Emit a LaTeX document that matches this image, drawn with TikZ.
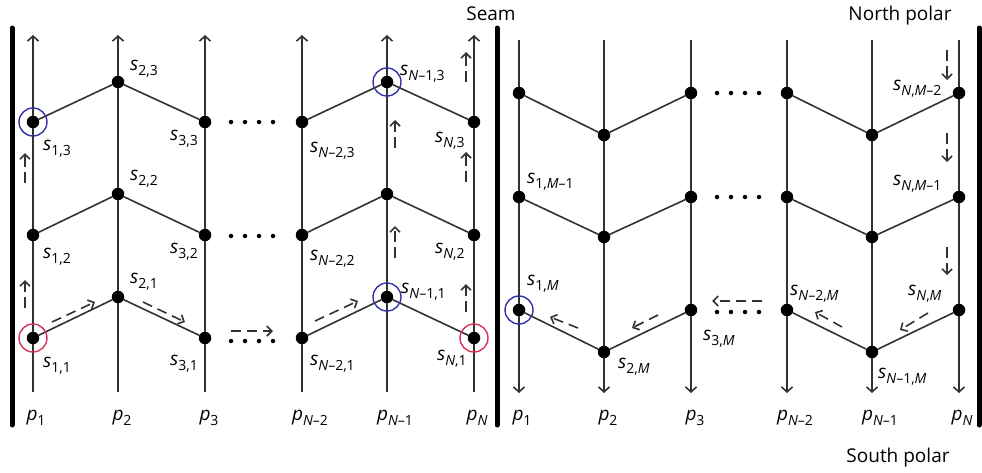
\documentclass[tikz,border=0pt]{standalone}
\usepackage{fontspec}
\setmainfont{Open Sans}
\usetikzlibrary{arrows.meta}
\definecolor{ringblue}{RGB}{50,50,170}
\definecolor{ringred}{RGB}{220,50,90}
\definecolor{linegray}{RGB}{50,50,50}
\newcommand\slab[1]{\textit{s}\raisebox{-5pt}{\fontsize{14pt}{14pt}\selectfont #1}}
\newcommand\plab[1]{\textit{p}\raisebox{-5pt}{\fontsize{14pt}{14pt}\selectfont #1}}
\newcommand\iN{\textit{N}}
\newcommand\iM{\textit{M}}
\tikzset{
  dot/.style={circle, fill=black, inner sep=0pt, minimum size=12.5pt},
  sdot/.style={circle, fill=black, inner sep=0pt, minimum size=4.5pt},
  vline/.style={draw=linegray, line width=1.6pt},
  zig/.style={draw=linegray, line width=1.6pt},
  tipup/.style={-{Straight Barb[length=5pt,width=11pt]}},
  darr/.style={draw=linegray, line width=1.6pt, dash pattern=on 10pt off 6pt, -{Straight Barb[length=5pt,width=10pt]}},
  vdash/.style={dash pattern=on 11pt off 5pt},
  ring/.style={circle, draw, line width=1.4pt, minimum size=28pt, inner sep=0pt},
  bar/.style={line width=5pt, line cap=round},
  lab/.style={anchor=base west, inner sep=0pt},
  plabel/.style={anchor=base, inner sep=0pt},
  title/.style={anchor=base, inner sep=0pt}
}
\begin{document}
\begin{tikzpicture}[x=1pt,y=-1pt,font=\fontsize{19pt}{22pt}\selectfont]
\useasboundingbox (0,0) rectangle (982,472);
% thick bars
\coordinate (BLt) at (12,28); \coordinate (BLb) at (12,425);
\coordinate (BSt) at (497,28); \coordinate (BSb) at (497,425);
\coordinate (BRt) at (979,28); \coordinate (BRb) at (979,425);
\draw[bar] (BLt) -- (BLb);
\draw[bar] (BSt) -- (BSb);
\draw[bar] (BRt) -- (BRb);
% titles
\node[title] (seam) at (491,20) {Seam};
\node[title] (north) at (900,20) {North polar};
\node[title] (south) at (898,462) {South polar};
% ---------- left panel ----------
\foreach \c/\x in {1/33,2/118,3/205,4/302,5/387,6/474}{
  \coordinate (Lt\c) at (\x,35);
  \coordinate (Lb\c) at (\x,392);
  \draw[vline,tipup] (Lb\c) -- (Lt\c);
}
\foreach \c/\x in {1/33,3/205,4/302,6/474}{
  \foreach \r/\y in {1/338,2/235,3/122}{
    \node[dot] (L\c\r) at (\x,\y) {};
  }
}
\foreach \c/\x in {2/118,5/387}{
  \foreach \r/\y in {1/297,2/194,3/82}{
    \node[dot] (L\c\r) at (\x,\y) {};
  }
}
\foreach \r in {1,2,3}{
  \draw[zig] (L1\r) -- (L2\r) -- (L3\r);
  \draw[zig] (L4\r) -- (L5\r) -- (L6\r);
}
% small dots left panel
\foreach \r/\y in {1/341,2/236,3/122}{
  \foreach \k/\x in {1/231,2/245,3/259,4/273}{
    \node[sdot] (Ld\r\k) at (\x,\y) {};
  }
}
% rings
\node[ring, draw=ringblue] (c1) at (L13) {};
\node[ring, draw=ringred] (c2) at (L11) {};
\node[ring, draw=ringblue] (c3) at (L53) {};
\node[ring, draw=ringblue] (c4) at (L51) {};
\node[ring, draw=ringred] (c5) at (L61) {};
% labels left
\node[lab] (l13) at (43,150) {\slab{1,3}};
\node[lab] (l23) at (130,70) {\slab{2,3}};
\node[lab] (l33) at (170,140) {\slab{3,3}};
\node[lab] (l12) at (43,258) {\slab{1,2}};
\node[lab] (l22) at (130,180) {\slab{2,2}};
\node[lab] (l32) at (170,253) {\slab{3,2}};
\node[lab] (l11) at (43,367) {\slab{1,1}};
\node[lab] (l21) at (130,283) {\slab{2,1}};
\node[lab] (l31) at (170,365) {\slab{3,1}};
\node[lab] (l43) at (310,152) {\slab{\iN–2,3}};
\node[lab] (l53) at (400,75) {\slab{\iN–1,3}};
\node[lab] (l63) at (435,142) {\slab{\iN,3}};
\node[lab] (l42) at (310,260) {\slab{\iN–2,2}};
\node[lab] (l62) at (435,253) {\slab{\iN,2}};
\node[lab] (l41) at (310,365) {\slab{\iN–2,1}};
\node[lab] (l51) at (401,293) {\slab{\iN–1,1}};
\node[lab] (l61) at (437,360) {\slab{\iN,1}};
% p labels left
\node[plabel] (p1) at (36,420) {\plab{1}};
\node[plabel] (p2) at (122,420) {\plab{2}};
\node[plabel] (p3) at (209,420) {\plab{3}};
\node[plabel] (p4) at (310,420) {\plab{\iN–2}};
\node[plabel] (p5) at (395,420) {\plab{\iN–1}};
\node[plabel] (p6) at (477,420) {\plab{\iN}};
% dashed arrows left
\draw[darr, vdash] (25,308) -- (25,280);
\draw[darr, vdash] (25,183) -- (25,153);
\draw[darr] (52,322) -- (95,302);
\draw[darr] (143,302) -- (185,322);
\draw[darr] (231,331) -- (273,331);
\draw[darr] (315,321) -- (358,301);
\draw[darr, vdash] (395,258) -- (395,226);
\draw[darr, vdash] (395,148) -- (395,120);
\draw[darr, vdash] (466,312) -- (466,284);
\draw[darr, vdash] (466,182) -- (466,152);
\draw[darr, vdash] (466,82) -- (466,52);
% ---------- right panel ----------
\foreach \c/\x in {1/519,2/604,3/691,4/787,5/872,6/959}{
  \coordinate (Rt\c) at (\x,40);
  \coordinate (Rb\c) at (\x,393);
  \draw[vline,tipup] (Rt\c) -- (Rb\c);
}
\foreach \c/\x in {1/519,3/691,4/787,6/959}{
  \foreach \r/\y in {1/93,2/197,3/310}{
    \node[dot] (R\c\r) at (\x,\y) {};
  }
}
\foreach \c/\x in {2/604,5/872}{
  \foreach \r/\y in {1/135,2/237,3/352}{
    \node[dot] (R\c\r) at (\x,\y) {};
  }
}
\foreach \r in {1,2,3}{
  \draw[zig] (R1\r) -- (R2\r) -- (R3\r);
  \draw[zig] (R4\r) -- (R5\r) -- (R6\r);
}
\foreach \r/\y in {1/93,2/197,3/312}{
  \foreach \k/\x in {1/717,2/731,3/745,4/759}{
    \node[sdot] (Rd\r\k) at (\x,\y) {};
  }
}
\node[ring, draw=ringblue] (c6) at (R13) {};
% labels right
\node[lab] (r12) at (527,183) {\slab{1,\iM–1}};
\node[lab] (r13) at (527,285) {\slab{1,\iM}};
\node[lab] (r23) at (618,368) {\slab{2,\iM}};
\node[lab] (r33) at (703,340) {\slab{3,\iM}};
\node[lab] (r61) at (893,90) {\slab{\iN,\iM–2}};
\node[lab] (r62) at (893,185) {\slab{\iN,\iM–1}};
\node[lab] (r63) at (908,295) {\slab{\iN,\iM}};
\node[lab] (r43) at (790,295) {\slab{\iN–2,\iM}};
\node[lab] (r53) at (878,378) {\slab{\iN–1,\iM}};
% p labels right
\node[plabel] (q1) at (522,420) {\plab{1}};
\node[plabel] (q2) at (608,420) {\plab{2}};
\node[plabel] (q3) at (695,420) {\plab{3}};
\node[plabel] (q4) at (795,420) {\plab{\iN–2}};
\node[plabel] (q5) at (880,420) {\plab{\iN–1}};
\node[plabel] (q6) at (962,420) {\plab{\iN}};
% dashed arrows right
\draw[darr, vdash] (947,50) -- (947,80);
\draw[darr, vdash] (947,133) -- (947,162);
\draw[darr, vdash] (947,247) -- (947,275);
\draw[darr] (928,313) -- (900,330);
\draw[darr] (842,327) -- (815,312);
\draw[darr] (762,301) -- (712,301);
\draw[darr] (658,315) -- (632,328);
\draw[darr] (578,328) -- (550,317);
\end{tikzpicture}
\end{document}
